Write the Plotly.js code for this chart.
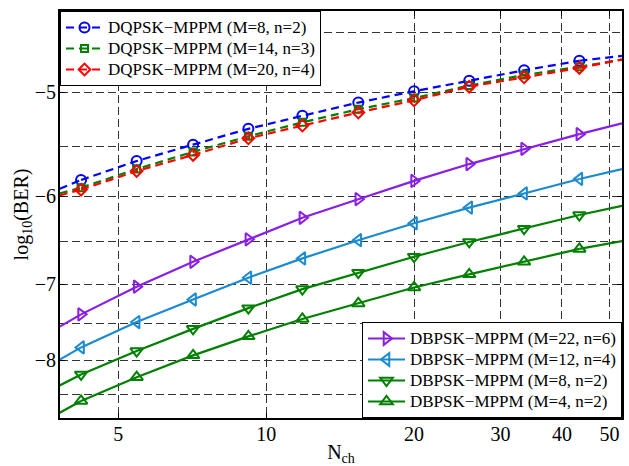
<!DOCTYPE html>
<html><head><meta charset="utf-8">
<script src="https://cdn.plot.ly/plotly-3.0.1.min.js"></script>
<style>html,body{margin:0;padding:0;background:#fff}#chart{width:629px;height:466px}</style>
</head><body><div id="chart"></div>
<script>
// N_ch positions (first and last = where the curves meet the plot frame)
const nch = [3.8, 4.2, 5.45, 7.1, 9.2, 11.85, 15.4, 20, 25.9, 33.5, 43.4, 53];

// log10(BER) values
const dqpsk_M8_n2  = [-5.92, -5.83, -5.64, -5.48, -5.33, -5.21, -5.09, -4.99, -4.90, -4.81, -4.73, -4.69];
const dqpsk_M14_n3 = [-5.97, -5.91, -5.72, -5.55, -5.40, -5.27, -5.15, -5.05, -4.94, -4.85, -4.78, -4.72];
const dqpsk_M20_n4 = [-5.99, -5.93, -5.74, -5.58, -5.42, -5.30, -5.18, -5.07, -4.95, -4.87, -4.79, -4.72];
const dbpsk_M22_n6 = [-7.54, -7.38, -7.03, -6.73, -6.47, -6.23, -6.03, -5.84, -5.67, -5.52, -5.38, -5.28];
const dbpsk_M12_n4 = [-7.99, -7.82, -7.48, -7.19, -6.92, -6.69, -6.48, -6.29, -6.12, -5.97, -5.82, -5.72];
const dbpsk_M8_n2  = [-8.36, -8.20, -7.87, -7.57, -7.30, -7.06, -6.86, -6.67, -6.50, -6.35, -6.20, -6.10];
const dbpsk_M4_n2  = [-8.77, -8.59, -8.24, -7.93, -7.67, -7.44, -7.24, -7.04, -6.88, -6.73, -6.58, -6.49];

const yTickVals = [-5, -6, -7, -8];
const yTickText = ['\u22125', '\u22126', '\u22127', '\u22128'];
const yMinorGrid = [-4.5, -5.5, -6.5, -7.5, -8.5];
const xTickVals = [5, 10, 20, 30, 40, 50];
const xTickText = ['5', '10', '20', '30', '40', '50'];

const FONT = 'Liberation Serif, Times New Roman, serif';

const series = [
  {name: 'DQPSK\u2212MPPM (M=8, n=2)',  y: dqpsk_M8_n2,  color: '#0000ff', symbol: 'circle-open',        size: 10, dash: '8px,5px', legend: 'legend'},
  {name: 'DQPSK\u2212MPPM (M=14, n=3)', y: dqpsk_M14_n3, color: '#008000', symbol: 'square-open',        size: 7,  dash: '8px,5px', legend: 'legend'},
  {name: 'DQPSK\u2212MPPM (M=20, n=4)', y: dqpsk_M20_n4, color: '#ff0000', symbol: 'diamond-open',       size: 9,  dash: '8px,5px', legend: 'legend'},
  {name: 'DBPSK\u2212MPPM (M=22, n=6)', y: dbpsk_M22_n6, color: '#8a1ee4', symbol: 'triangle-right-open', size: 11, dash: 'solid', legend: 'legend2'},
  {name: 'DBPSK\u2212MPPM (M=12, n=4)', y: dbpsk_M12_n4, color: '#1b8bd0', symbol: 'triangle-left-open',  size: 11, dash: 'solid', legend: 'legend2'},
  {name: 'DBPSK\u2212MPPM (M=8, n=2)',  y: dbpsk_M8_n2,  color: '#008000', symbol: 'triangle-down-open',  size: 11, dash: 'solid', legend: 'legend2'},
  {name: 'DBPSK\u2212MPPM (M=4, n=2)',  y: dbpsk_M4_n2,  color: '#008000', symbol: 'triangle-up-open',    size: 11, dash: 'solid', legend: 'legend2'}
];

// y axis: log scale of |log10(BER)|, reversed so that -5 is on top
const neg = a => a.map(v => v === null ? null : -v);
const traces = [];
series.forEach(s => {
  const n = nch.length;
  traces.push({
    x: [nch[0], nch[1], null, nch[n-2], nch[n-1]],
    y: neg([s.y[0], s.y[1], null, s.y[n-2], s.y[n-1]]),
    mode: 'lines', showlegend: false, hoverinfo: 'skip',
    line: {color: s.color, width: 2.2, dash: s.dash}
  });
  traces.push({
    x: nch.slice(1, n-1), y: neg(s.y.slice(1, n-1)),
    // legend text drawn at 17px; the legend's own (smaller) font size only sets the row spacing
    name: '<span style="font-size:17px">' + s.name + '</span>', legend: s.legend,
    mode: 'lines+markers',
    line: {color: s.color, width: 2.2, dash: s.dash},
    marker: {symbol: s.symbol, size: s.size, color: s.color, line: {color: s.color, width: 2}}
  });
});

const GRID = {showgrid: true, gridcolor: '#333', gridwidth: 1, griddash: '8px,4px'};
const LEGEND_ROW_FONT = 18 / 1.3;

const layout = {
  width: 629, height: 466,
  margin: {l: 60, r: 7, t: 11, b: 48},
  paper_bgcolor: '#fff', plot_bgcolor: '#fff',
  font: {family: FONT, size: 20, color: '#000'},
  xaxis: Object.assign({
    type: 'log', range: [Math.log10(3.805), Math.log10(53)],
    tickmode: 'array', tickvals: xTickVals, ticktext: xTickText,
    ticks: 'inside', ticklen: 5, tickcolor: '#000', ticklabelstandoff: -3,
    showline: true, linecolor: '#000', linewidth: 2, mirror: 'ticks',
    zeroline: false,
    tickfont: {family: FONT, size: 20},
    title: {text: 'N<sub>ch</sub>', font: {family: FONT, size: 20}, standoff: 2}
  }, GRID),
  yaxis: Object.assign({
    type: 'log', range: [Math.log10(8.851), Math.log10(4.335)],
    tickmode: 'array', tickvals: neg(yTickVals), ticktext: yTickText,
    ticks: 'inside', ticklen: 5, tickcolor: '#000', ticklabelstandoff: -2,
    showline: true, linecolor: '#000', linewidth: 2, mirror: 'ticks',
    zeroline: false,
    minor: {tickmode: 'array', tickvals: neg(yMinorGrid), ticks: '', showgrid: true, gridcolor: '#333', gridwidth: 1, griddash: '8px,4px'},
    tickfont: {family: FONT, size: 20},
    title: {text: 'log<sub>10</sub>(BER)', font: {family: FONT, size: 20}, standoff: 0}
  }, GRID),
  legend: {
    x: 0, y: 1, xanchor: 'left', yanchor: 'top',
    bgcolor: '#fff', bordercolor: '#000', borderwidth: 1,
    font: {family: FONT, size: LEGEND_ROW_FONT, color: '#000'},
    itemwidth: 37, tracegroupgap: 0
  },
  legend2: {
    x: 1, y: 0, xanchor: 'right', yanchor: 'bottom',
    bgcolor: '#fff', bordercolor: '#000', borderwidth: 1,
    font: {family: FONT, size: LEGEND_ROW_FONT, color: '#000'},
    itemwidth: 37, tracegroupgap: 0
  },
  showlegend: true
};

Plotly.newPlot('chart', traces, layout, {displayModeBar: false, staticPlot: true});
</script>
</body></html>
